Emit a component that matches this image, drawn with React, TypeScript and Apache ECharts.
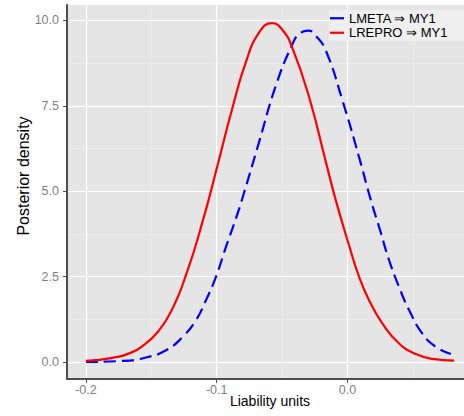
import React, { useEffect, useRef } from "react";
import * as echarts from "echarts";

const xRed = [-0.2, -0.1797, -0.1669, -0.1541, -0.144, -0.1363, -0.1287, -0.1235, -0.1172, -0.1109, -0.1063, -0.0994, -0.0879, -0.0777, -0.0675, -0.0578, -0.0497, -0.042, -0.0293, -0.0165, -0.0089, 0.0013, 0.0089, 0.0166, 0.0268, 0.0395, 0.0523, 0.065, 0.0816];
const yRed = [0.03, 0.12, 0.25, 0.54, 0.93, 1.38, 2.0, 2.55, 3.27, 4.1, 4.73, 5.75, 7.45, 8.78, 9.65, 9.92, 9.72, 9.18, 7.75, 5.85, 4.73, 3.4, 2.49, 1.8, 1.12, 0.54, 0.23, 0.09, 0.04];

const xBlue = [-0.2, -0.172, -0.1541, -0.1388, -0.1261, -0.1159, -0.1083, -0.1006, -0.093, -0.0853, -0.0803, -0.0675, -0.0547, -0.042, -0.0369, -0.0298, -0.0242, -0.0165, -0.0038, 0.0089, 0.0179, 0.0242, 0.0319, 0.0395, 0.0472, 0.0573, 0.0676, 0.0791];
const yBlue = [0.0, 0.03, 0.13, 0.34, 0.73, 1.22, 1.8, 2.49, 3.36, 4.2, 4.8, 6.45, 8.1, 9.31, 9.6, 9.7, 9.55, 9.11, 7.65, 5.99, 4.73, 3.95, 2.97, 2.19, 1.51, 0.83, 0.44, 0.23];

const seriesNames = ["LMETA \u21D2 MY1", "LREPRO \u21D2 MY1"];
const xTicks = [-0.2, -0.1, 0.0];
const yTicks = [0, 2.5, 5, 7.5, 10];
const xMinor = [-0.15, -0.05, 0.05];
const yMinor = [1.25, 3.75, 6.25, 8.75];
const xTitle = "Liability units";
const yTitle = "Posterior density";

const FONT = "'Liberation Sans', Arial, Helvetica, sans-serif";

export default function App() {
  const ref = useRef<HTMLDivElement>(null);
  useEffect(() => {
    if (!ref.current) return;
    const chart = echarts.init(ref.current, null, { renderer: "svg" });
    const xMin = -0.2145;
    const xMax = 0.096;
    const yMin = -0.5;
    const yMax = 10.45;
    const fmt = (v: number) => (Math.abs(v) < 1e-9 ? 0 : v).toFixed(1);
    chart.setOption({
      animation: false,
      backgroundColor: "#ffffff",
      textStyle: { fontFamily: FONT },
      grid: {
        left: 67,
        right: -9,
        top: 5,
        bottom: 37,
        show: true,
        backgroundColor: "#e5e5e5",
        borderWidth: 0,
        outerBoundsMode: "none",
        containLabel: false,
      },
      graphic: [
        {
          type: "text",
          x: 23,
          y: 176,
          rotation: Math.PI / 2,
          style: {
            text: yTitle,
            x: 0,
            y: 0,
            align: "center",
            verticalAlign: "middle",
            fill: "#000000",
            fontSize: 16,
            fontFamily: FONT,
          },
        },
      ],
      legend: {
        show: true,
        orient: "vertical",
        left: 329,
        top: 10,
        itemWidth: 14,
        itemHeight: 2.2,
        itemGap: 0,
        icon: "rect",
        padding: [1, 30, 1, 1],
        backgroundColor: "#efefef",
        textStyle: { color: "#000000", fontSize: 13, lineHeight: 14.5, fontFamily: FONT },
        data: seriesNames,
      },
      xAxis: [
        {
          type: "value",
          min: xMin,
          max: xMax,
          position: "bottom",
          z: 2,
          name: xTitle,
          nameLocation: "middle",
          nameGap: 15,
          nameMoveOverlap: false,
          nameTextStyle: { color: "#000000", fontSize: 14, fontFamily: FONT },
          axisLine: { show: true, onZero: false, lineStyle: { color: "#4d4d4d", width: 2 } },
          axisTick: { show: true, length: 4, customValues: xTicks, lineStyle: { color: "#4d4d4d", width: 1 } },
          axisLabel: { customValues: xTicks, formatter: fmt, color: "#7f7f7f", fontSize: 12.5, margin: 4, fontFamily: FONT },
          splitLine: { show: true, lineStyle: { color: "#ffffff", width: 1.2 } },
        },
        {
          type: "value",
          min: xMin,
          max: xMax,
          position: "top",
          z: 1,
          axisLine: { show: false },
          axisTick: { show: false, customValues: xMinor },
          axisLabel: { show: false, customValues: xMinor },
          splitLine: { show: true, lineStyle: { color: "#efefef", width: 0.6 } },
        },
      ],
      yAxis: [
        {
          type: "value",
          min: yMin,
          max: yMax,
          position: "left",
          z: 2,
          axisLine: { show: true, onZero: false, lineStyle: { color: "#4d4d4d", width: 2 } },
          axisTick: { show: true, length: 4, customValues: yTicks, lineStyle: { color: "#4d4d4d", width: 1 } },
          axisLabel: { customValues: yTicks, formatter: fmt, color: "#7f7f7f", fontSize: 12.5, margin: 8, fontFamily: FONT },
          splitLine: { show: true, lineStyle: { color: "#ffffff", width: 1.2 } },
        },
        {
          type: "value",
          min: yMin,
          max: yMax,
          position: "right",
          z: 1,
          axisLine: { show: false },
          axisTick: { show: false, customValues: yMinor },
          axisLabel: { show: false, customValues: yMinor },
          splitLine: { show: true, lineStyle: { color: "#efefef", width: 0.6 } },
        },
      ],
      series: [
        {
          type: "line",
          name: seriesNames[0],
          data: xBlue.map((x, i) => [x, yBlue[i]]),
          smooth: 0.5,
          symbol: "none",
          z: 3,
          lineStyle: { color: "#0000ff", width: 2.2, type: [12, 6] },
          itemStyle: { color: "#0000ff" },
        },
        {
          type: "line",
          name: seriesNames[1],
          data: xRed.map((x, i) => [x, yRed[i]]),
          smooth: 0.5,
          symbol: "none",
          z: 4,
          lineStyle: { color: "#ff0000", width: 2.2 },
          itemStyle: { color: "#ff0000" },
        },
      ],
    });
    return () => chart.dispose();
  }, []);
  return (
    <div
      ref={ref}
      style={{ position: "fixed", left: 0, top: 0, width: 464, height: 416, background: "#fff" }}
    />
  );
}
